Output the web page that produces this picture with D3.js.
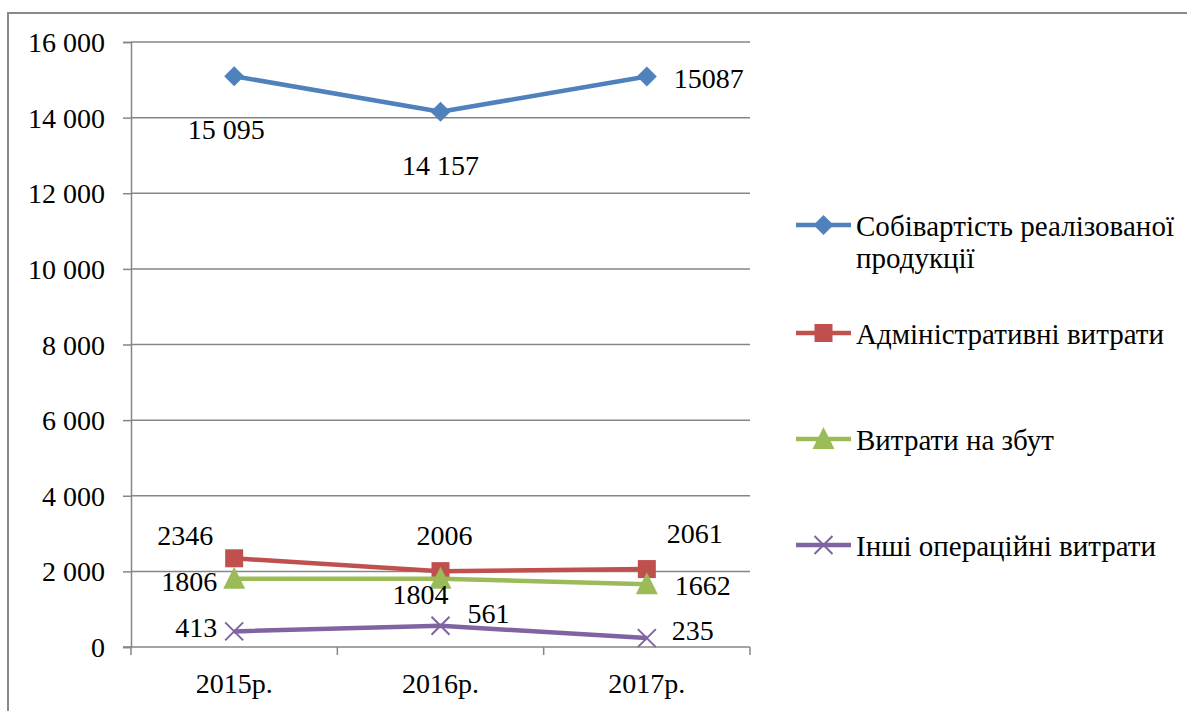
<!DOCTYPE html>
<html>
<head>
<meta charset="utf-8">
<script src="https://cdn.jsdelivr.net/npm/d3@7"></script>
<style>
  html, body { margin: 0; padding: 0; background: #fff; }
  svg { display: block; font-family: "Liberation Serif", "Times New Roman", serif; }
</style>
</head>
<body>
<svg id="chart" width="1187" height="711"></svg>
<script>
// ---- data ----
const categories = ["2015р.", "2016р.", "2017р."];
const seriesNames = [
  ["Собівартість реалізованої", "продукції"],
  ["Адміністративні витрати"],
  ["Витрати на збут"],
  ["Інші операційні витрати"]
];
const costOfSales   = [15095, 14157, 15087];
const adminExpenses = [2346, 2006, 2061];
const sellingExp    = [1806, 1804, 1662];
const otherOpExp    = [413, 561, 235];
const costLabels    = ["15 095", "14 157", "15087"];
const adminLabels   = ["2346", "2006", "2061"];
const sellingLabels = ["1806", "1804", "1662"];
const otherLabels   = ["413", "561", "235"];
const yTicks = [0, 2000, 4000, 6000, 8000, 10000, 12000, 14000, 16000];

// ---- styles / placement ----
const colors = ["#4F81BD", "#C0504D", "#9BBB59", "#8064A2"];
const markers = ["diamond", "square", "triangle", "cross"];
// label placement relative to marker: [anchor, dx, dy(baseline)]
const labelPlacement = [
  [["middle", -8, 63], ["middle", 0, 63], ["start", 27, 11.5]],
  [["middle", -49, -13], ["middle", 4, -26], ["middle", 48, -26]],
  [["end", -17, 12], ["middle", -20, 25], ["start", 28, 11]],
  [["end", -17, 6], ["start", 27, -3], ["start", 25, 2]]
];

const series = [
  { name: seriesNames[0], values: costOfSales, labels: costLabels },
  { name: seriesNames[1], values: adminExpenses, labels: adminLabels },
  { name: seriesNames[2], values: sellingExp, labels: sellingLabels },
  { name: seriesNames[3], values: otherOpExp, labels: otherLabels }
];

const svg = d3.select("#chart");
const FONT = 28;
const LEGEND_FONT = 29;
const gridColor = "#868686";

// outer border (only left & top visible)
svg.append("rect")
  .attr("x", 8).attr("y", 13).attr("width", 1300).attr("height", 800)
  .attr("fill", "none").attr("stroke", "#8a8a8a").attr("stroke-width", 2);

const x = d3.scaleBand().domain(categories).range([131, 750]).padding(0);
const y = d3.scaleLinear().domain([0, 16000]).range([647, 42]);
const cx = c => x(c) + x.bandwidth() / 2;

const loc = d3.formatLocale({ decimal: ",", thousands: " ", grouping: [3], currency: ["", ""] });
const fmt = loc.format(",d");

// gridlines
svg.append("g").selectAll("line").data(yTicks.filter(d => d > 0)).join("line")
  .attr("x1", 131).attr("x2", 750)
  .attr("y1", d => y(d)).attr("y2", d => y(d))
  .attr("stroke", gridColor).attr("stroke-width", 1.5);

// y axis
const yAxis = svg.append("g").attr("transform", "translate(131,0)")
  .call(d3.axisLeft(y).tickValues(yTicks).tickFormat(fmt).tickSize(8).tickPadding(18));
yAxis.select(".domain").attr("stroke", gridColor).attr("stroke-width", 1.5);
yAxis.selectAll(".tick line").attr("stroke", gridColor).attr("stroke-width", 1.5);
yAxis.selectAll(".tick text")
  .attr("font-family", "Liberation Serif").attr("font-size", FONT).attr("fill", "#000")
  .attr("dy", "0.34em");

// x axis
const xAxis = svg.append("g").attr("transform", "translate(0,647)")
  .call(d3.axisBottom(x).tickSize(0).tickPadding(0));
xAxis.select(".domain").attr("stroke", gridColor).attr("stroke-width", 1.5)
  .attr("d", "M123,0H750");
xAxis.selectAll(".tick text")
  .attr("font-family", "Liberation Serif").attr("font-size", FONT).attr("fill", "#000")
  .attr("y", 46).attr("dy", 0);
// category boundary ticks
const bounds = categories.map(c => x(c)).concat([x.range()[1]]);
svg.append("g").selectAll("line").data(bounds).join("line")
  .attr("x1", d => d).attr("x2", d => d).attr("y1", 647).attr("y2", 655)
  .attr("stroke", gridColor).attr("stroke-width", 1.5);

// marker drawer
function drawMarker(g, type, color) {
  if (type === "diamond") {
    g.append("path").attr("d", "M0,-10L10,0L0,10L-10,0Z").attr("fill", color);
  } else if (type === "square") {
    g.append("rect").attr("x", -9).attr("y", -9).attr("width", 18).attr("height", 18).attr("fill", color);
  } else if (type === "triangle") {
    g.append("path").attr("d", "M0,-12L11,10L-11,10Z").attr("fill", color);
  } else if (type === "cross") {
    g.append("path").attr("d", "M-9,-9L9,9M-9,9L9,-9")
      .attr("stroke", color).attr("stroke-width", 2).attr("fill", "none");
  }
}

const line = d3.line().x((d, i) => cx(categories[i])).y(d => y(d));

series.forEach((s, si) => {
  const g = svg.append("g");
  g.append("path").datum(s.values)
    .attr("d", line).attr("fill", "none")
    .attr("stroke", colors[si]).attr("stroke-width", 4.5).attr("stroke-linejoin", "round");
  s.values.forEach((v, i) => {
    const mg = g.append("g").attr("transform", `translate(${cx(categories[i])},${y(v)})`);
    drawMarker(mg, markers[si], colors[si]);
  });
  s.values.forEach((v, i) => {
    const p = labelPlacement[si][i];
    g.append("text")
      .attr("x", cx(categories[i]) + p[1]).attr("y", y(v) + p[2])
      .attr("text-anchor", p[0])
      .attr("font-size", FONT).attr("fill", "#000")
      .text(s.labels[i]);
  });
});

// legend
const legendY = [225, 333, 439, 545];
series.forEach((s, si) => {
  const g = svg.append("g").attr("transform", `translate(796,${legendY[si]})`);
  g.append("line").attr("x1", 0).attr("x2", 55).attr("y1", 0).attr("y2", 0)
    .attr("stroke", colors[si]).attr("stroke-width", 4.5);
  const mg = g.append("g").attr("transform", "translate(27.5,0)");
  drawMarker(mg, markers[si], colors[si]);
  const t = g.append("text").attr("x", 60).attr("y", 11)
    .attr("font-size", LEGEND_FONT).attr("fill", "#000");
  s.name.forEach((ln, li) => {
    const ts = t.append("tspan").attr("x", 60).attr("dy", li === 0 ? 0 : 32).text(ln);
    if (s.name.length > 1 && li === 0) ts.attr("textLength", 318).attr("lengthAdjust", "spacing");
  });
});
</script>
</body>
</html>
